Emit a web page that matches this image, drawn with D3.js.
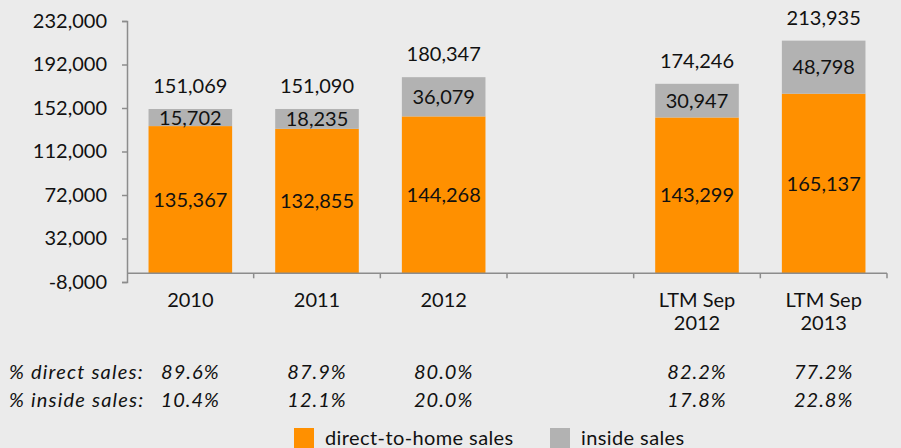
<!DOCTYPE html>
<html>
<head>
<meta charset="utf-8">
<script src="https://cdn.jsdelivr.net/npm/d3@7"></script>
<style>
  body { margin: 0; background: #ebebeb; }
  svg { display: block; font-family: Lato, "Open Sans", sans-serif; }
</style>
</head>
<body>
<svg id="chart" width="901" height="448"></svg>
<script>
var categories = ["2010", "2011", "2012", "", "LTM Sep\n2012", "LTM Sep\n2013"];
var directSales = [135367, 132855, 144268, null, 143299, 165137];
var insideSales = [15702, 18235, 36079, null, 30947, 48798];
var totals = [151069, 151090, 180347, null, 174246, 213935];
var pctDirect = ["89.6%", "87.9%", "80.0%", "", "82.2%", "77.2%"];
var pctInside = ["10.4%", "12.1%", "20.0%", "", "17.8%", "22.8%"];
var yTicks = [-8000, 32000, 72000, 112000, 152000, 192000, 232000];

var colors = { direct: "#ff9000", inside: "#b2b2b2" };

var svg = d3.select("#chart");
var plotLeft = 127, plotRight = 887, plotTop = 21, plotBottom = 282;

var x = d3.scaleBand().domain(d3.range(categories.length)).range([plotLeft, plotRight]).paddingInner(0.34).paddingOuter(0.17);
var y = d3.scaleLinear().domain([-8000, 232000]).range([plotBottom, plotTop]);
var fmt = function(v) { return d3.format(",")(v).replace("\u2212", "-"); };

// y axis
var yAxis = svg.append("g").attr("transform", "translate(" + plotLeft + ",0)")
    .call(d3.axisLeft(y).tickValues(yTicks).tickSize(5).tickPadding(15).tickFormat(fmt));
yAxis.select(".domain").attr("stroke", "#8c8c8c").attr("stroke-width", 1.5);
yAxis.selectAll(".tick line").attr("stroke", "#8c8c8c").attr("stroke-width", 1.5);
yAxis.selectAll(".tick text").attr("font-size", 20).attr("fill", "#111").attr("font-family", "Lato, sans-serif");

// bars
var rows = categories.map(function(c, i) {
  return { i: i, direct: directSales[i], inside: insideSales[i], total: totals[i] };
}).filter(function(d) { return d.direct !== null; });

var g = svg.append("g");
g.selectAll("rect.direct").data(rows).enter().append("rect")
  .attr("x", function(d) { return x(d.i); })
  .attr("width", x.bandwidth())
  .attr("y", function(d) { return y(d.direct); })
  .attr("height", function(d) { return y(0) - y(d.direct); })
  .attr("fill", colors.direct);
g.selectAll("rect.inside").data(rows).enter().append("rect")
  .attr("x", function(d) { return x(d.i); })
  .attr("width", x.bandwidth())
  .attr("y", function(d) { return y(d.direct + d.inside); })
  .attr("height", function(d) { return y(d.direct) - y(d.direct + d.inside); })
  .attr("fill", colors.inside);

// x axis
var band = (plotRight - plotLeft) / categories.length;
var xAxis = svg.append("g");
xAxis.append("line").attr("x1", plotLeft).attr("x2", plotRight).attr("y1", y(0)).attr("y2", y(0))
  .attr("stroke", "#8c8c8c").attr("stroke-width", 1.5);
xAxis.selectAll("line.tk").data(d3.range(1, categories.length + 1)).enter().append("line")
  .attr("x1", function(i) { return plotLeft + i * band; })
  .attr("x2", function(i) { return plotLeft + i * band; })
  .attr("y1", y(0)).attr("y2", y(0) + 5)
  .attr("stroke", "#8c8c8c").attr("stroke-width", 1.5);

var cx = function(i) { return x(i) + x.bandwidth() / 2; };

var xl = svg.append("g").selectAll("text").data(categories).enter().append("text")
  .attr("text-anchor", "middle").attr("font-size", 20).attr("fill", "#111");
xl.each(function(c, i) {
  var t = d3.select(this);
  c.split("\n").forEach(function(line, k) {
    t.append("tspan").attr("x", cx(i)).attr("y", 307 + k * 23).text(line);
  });
});

// value labels
var lab = svg.append("g").attr("font-size", 20).attr("fill", "#111").attr("text-anchor", "middle");
lab.selectAll("text.d").data(rows).enter().append("text")
  .attr("x", function(d) { return cx(d.i); })
  .attr("y", function(d) { return (y(d.direct) + y(0)) / 2 + 7; })
  .text(function(d) { return fmt(d.direct); });
lab.selectAll("text.s").data(rows).enter().append("text")
  .attr("x", function(d) { return cx(d.i); })
  .attr("y", function(d) { return (y(d.direct) + y(d.direct + d.inside)) / 2 + 7; })
  .text(function(d) { return fmt(d.inside); });
lab.selectAll("text.t").data(rows).enter().append("text")
  .attr("x", function(d) { return cx(d.i); })
  .attr("y", function(d) { return y(d.total) - 16; })
  .text(function(d) { return fmt(d.total); });

// percentage rows
var pct = svg.append("g").attr("font-size", 20).attr("font-style", "italic").attr("fill", "#111");
pct.append("text").attr("x", 9).attr("y", 379).attr("letter-spacing", 1.2).text("% direct sales:");
pct.append("text").attr("x", 9).attr("y", 407).attr("letter-spacing", 1.2).text("% inside sales:");
pct.selectAll("text.pd").data(pctDirect).enter().append("text")
  .attr("text-anchor", "middle").attr("letter-spacing", 1).attr("x", function(d, i) { return cx(i); }).attr("y", 379).text(function(d) { return d; });
pct.selectAll("text.pi").data(pctInside).enter().append("text")
  .attr("text-anchor", "middle").attr("letter-spacing", 1).attr("x", function(d, i) { return cx(i); }).attr("y", 407).text(function(d) { return d; });

// legend
var legend = [
  { name: "direct-to-home sales", color: colors.direct, x: 294 },
  { name: "inside sales", color: colors.inside, x: 550 }
];
var lg = svg.append("g").selectAll("g").data(legend).enter().append("g")
  .attr("transform", function(d) { return "translate(" + d.x + ",428)"; });
lg.append("rect").attr("width", 20).attr("height", 20).attr("fill", function(d) { return d.color; });
lg.append("text").attr("x", 31).attr("y", 17).attr("font-size", 20).attr("letter-spacing", 0.4).attr("fill", "#111").text(function(d) { return d.name; });
</script>
</body>
</html>
